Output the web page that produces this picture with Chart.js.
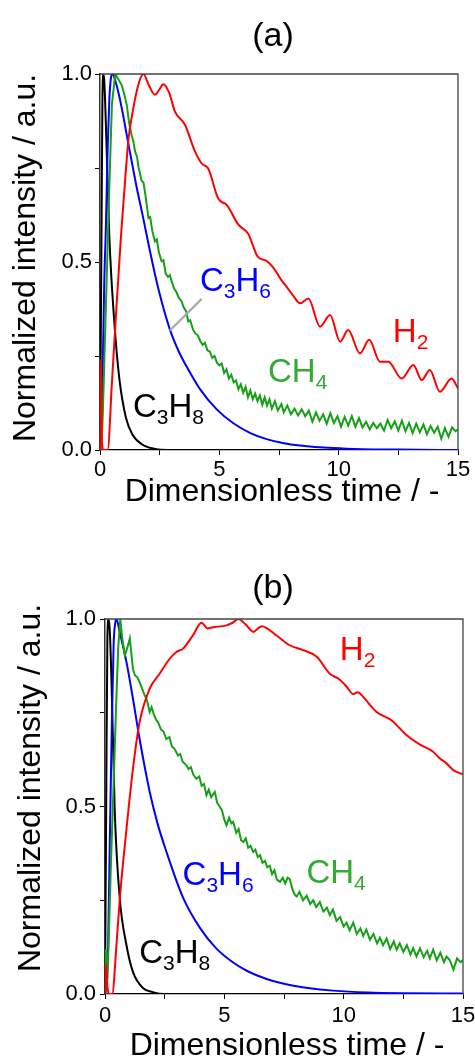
<!DOCTYPE html>
<html><head><meta charset="utf-8">
<script src="https://cdn.jsdelivr.net/npm/chart.js@4/dist/chart.umd.min.js"></script>
<style>
html,body{margin:0;padding:0;background:#fff;}
canvas{display:block;}
</style></head><body>
<canvas id="ca" width="475" height="530"></canvas>
<canvas id="cb" width="475" height="529"></canvas>
<script>
// ---------- tick labels ----------
const xTickLabels = ['0', '5', '10', '15'];
const yTickLabels = ['0.0', '0.5', '1.0'];

// ---------- panel (a) ----------
const tH2a = [0,0.04,0.08,0.15,0.32,0.5,0.67,0.88,1.09,1.2,1.37,1.6,1.82,2.05,2.3,2.5,2.65,2.9,3.14,3.56,3.98,4.26,4.54,4.96,5.31,5.79,6.21,6.6,7.0,7.26,7.6,7.82,8.1,8.38,8.73,9.22,9.64,10.06,10.4,10.89,11.28,11.73,12.08,12.64,13.13,13.48,13.82,14.24,14.73,15];
const h2a  = [0,0.24,0.02,0,0,0.18,0.36,0.57,0.75,0.83,0.9,0.97,1.0,0.97,0.945,0.96,0.973,0.95,0.90,0.865,0.794,0.762,0.748,0.668,0.652,0.60,0.575,0.515,0.502,0.485,0.452,0.434,0.41,0.39,0.403,0.328,0.359,0.288,0.319,0.257,0.293,0.235,0.235,0.19,0.226,0.186,0.213,0.155,0.19,0.164];

const tC3H8a = [0,0.06,0.1,0.14,0.18,0.25,0.39,0.6,0.81,1.09,1.37,1.79,2.3,2.8,15];
const c3h8a  = [0,0.55,0.92,1.0,0.98,0.86,0.57,0.34,0.19,0.085,0.04,0.014,0.003,0,0];

const tC3H6a = [0,0.06,0.11,0.18,0.25,0.32,0.39,0.46,0.53,0.65,0.81,1.0,1.2,1.5,1.8,2.09,2.44,2.93,3.3,3.63,4.19,4.89,5.59,6.3,6.98,7.7,8.38,9.78,11,12.5,15];
const c3h6a  = [0,0.05,0.2,0.45,0.6,0.8,0.93,0.99,1.0,0.98,0.94,0.88,0.81,0.71,0.62,0.53,0.43,0.32,0.262,0.222,0.162,0.108,0.071,0.045,0.029,0.018,0.012,0.005,0.002,0.001,0];

const tCH4a = [0,0.03,0.07,0.12,0.2,0.3,0.39,0.5,0.64,0.78,
  0.91,1.0,1.12,1.22,1.32,1.4,1.47,1.55,1.62,1.75,
  1.82,1.9,2.03,2.1,2.2,2.3,2.38,2.47,2.58,2.66,
  2.75,2.85,2.93,3.0,3.1,3.2,3.3,3.42,3.5,3.6,
  3.7,3.78,3.9,4.0,4.1,4.2,4.3,4.4,4.5,4.6,
  4.7,4.8,4.9,5.0,5.1,5.2,5.3,5.4,5.5,5.6,
  5.7,5.8,5.9,6.0,6.1,6.2,6.3,6.4,6.5,6.6,
  6.7,6.8,6.9,7.0,7.1,7.2,7.33,7.45,7.6,7.7,
  7.85,8.0,8.15,8.3,8.45,8.6,8.75,8.9,9.05,9.2,
  9.35,9.5,9.65,9.8,9.95,10.1,10.25,10.4,10.55,10.7,
  10.85,11.0,11.15,11.3,11.45,11.6,11.75,11.9,12.05,12.2,
  12.35,12.5,12.65,12.8,12.95,13.1,13.25,13.4,13.55,13.7,
  13.85,14.0,14.15,14.3,14.45,14.6,14.75,14.9,15];
const ch4a = [0,0.17,0.02,0.1,0.28,0.5,0.7,0.92,1.0,0.985,
  0.97,0.95,0.918,0.87,0.839,0.82,0.794,0.78,0.75,0.715,
  0.712,0.68,0.617,0.62,0.58,0.555,0.56,0.525,0.502,0.505,
  0.47,0.46,0.465,0.449,0.43,0.42,0.405,0.395,0.38,0.37,
  0.342,0.345,0.32,0.31,0.305,0.29,0.28,0.285,0.265,0.262,
  0.245,0.25,0.232,0.225,0.23,0.205,0.215,0.19,0.2,0.18,
  0.185,0.162,0.175,0.152,0.168,0.14,0.158,0.135,0.15,0.13,
  0.145,0.12,0.14,0.118,0.135,0.11,0.13,0.105,0.122,0.1,
  0.118,0.095,0.11,0.092,0.108,0.09,0.105,0.075,0.1,0.078,
  0.095,0.07,0.098,0.072,0.09,0.062,0.088,0.065,0.09,0.062,
  0.085,0.06,0.075,0.055,0.072,0.058,0.07,0.052,0.08,0.058,
  0.076,0.052,0.078,0.05,0.072,0.045,0.07,0.047,0.068,0.042,
  0.064,0.046,0.062,0.03,0.058,0.035,0.06,0.05,0.055];

// ---------- panel (b) ----------
const tH2b = [0,0.05,0.1,0.2,0.3,0.48,0.62,0.9,1.17,1.45,1.87,2.29,2.71,2.99,3.27,3.69,4.04,4.3,4.53,5.09,5.35,5.58,5.9,6.21,6.56,7.19,7.74,8.3,8.86,9.42,9.8,10.12,10.4,10.6,10.75,11.38,12.0,12.64,13.2,13.75,14.03,14.31,14.59,15];
const h2b  = [0,0.08,0.02,0,0,0.13,0.254,0.44,0.6,0.725,0.814,0.854,0.894,0.912,0.921,0.957,0.99,0.975,0.978,0.983,0.99,1.0,0.985,0.966,0.981,0.956,0.93,0.917,0.9,0.854,0.84,0.82,0.8,0.805,0.797,0.752,0.73,0.69,0.665,0.646,0.628,0.615,0.597,0.586];

const tC3H8b = [0,0.05,0.1,0.15,0.2,0.27,0.41,0.62,0.9,1.17,1.59,2.0,2.5,15];
const c3h8b  = [0,0.5,0.95,1.0,0.97,0.84,0.485,0.254,0.13,0.059,0.016,0.005,0,0];

const tC3H6b = [0,0.08,0.13,0.2,0.27,0.36,0.43,0.48,0.6,0.9,1.17,1.45,1.87,2.2,2.57,3.27,3.97,4.67,5.37,6.0,6.77,7.74,8.5,9.56,11,12.5,15];
const c3h6b  = [0,0.03,0.13,0.4,0.66,0.93,0.99,1.0,0.97,0.885,0.788,0.68,0.54,0.455,0.38,0.257,0.177,0.121,0.084,0.06,0.04,0.024,0.016,0.009,0.004,0.002,0.001];

const tCH4b = [0,0.03,0.08,0.15,0.25,0.35,0.45,0.55,0.64,0.72,
  0.83,0.92,1.04,1.1,1.17,1.25,1.35,1.45,1.55,1.66,
  1.75,1.87,1.95,2.05,2.15,2.22,2.35,2.45,2.57,2.7,
  2.8,2.9,3.06,3.15,3.25,3.41,3.5,3.6,3.7,3.83,
  3.95,4.05,4.15,4.25,4.35,4.45,4.6,4.7,4.8,4.9,
  5.0,5.09,5.2,5.3,5.37,5.5,5.6,5.7,5.8,5.9,
  6.0,6.1,6.21,6.3,6.4,6.5,6.6,6.7,6.8,6.9,
  7.0,7.1,7.2,7.33,7.45,7.55,7.65,7.74,7.85,7.95,
  8.03,8.15,8.3,8.45,8.6,8.72,8.85,9.0,9.15,9.3,
  9.42,9.55,9.7,9.85,10.0,10.12,10.25,10.4,10.55,10.7,
  10.82,10.95,11.1,11.25,11.4,11.52,11.65,11.8,11.95,12.1,
  12.22,12.35,12.5,12.65,12.8,12.91,13.05,13.2,13.35,13.5,
  13.61,13.75,13.9,14.05,14.2,14.31,14.45,14.6,14.75,14.9,
  15];
const ch4b = [0,0.12,0.02,0.13,0.35,0.54,0.74,0.92,1.0,0.95,
  0.903,0.92,0.948,0.91,0.867,0.85,0.845,0.832,0.815,0.797,
  0.785,0.752,0.765,0.745,0.73,0.725,0.705,0.7,0.68,0.685,
  0.66,0.655,0.636,0.64,0.62,0.61,0.6,0.605,0.585,0.574,
  0.58,0.555,0.56,0.53,0.545,0.525,0.539,0.51,0.5,0.49,
  0.465,0.45,0.47,0.455,0.459,0.43,0.44,0.41,0.405,0.415,
  0.39,0.395,0.379,0.385,0.365,0.37,0.35,0.355,0.338,0.342,
  0.32,0.33,0.305,0.299,0.31,0.295,0.31,0.307,0.28,0.265,
  0.26,0.272,0.25,0.262,0.24,0.25,0.232,0.245,0.22,0.23,
  0.21,0.225,0.195,0.205,0.18,0.19,0.17,0.19,0.16,0.175,
  0.155,0.172,0.145,0.16,0.135,0.15,0.13,0.148,0.12,0.14,
  0.118,0.135,0.112,0.13,0.105,0.122,0.1,0.122,0.098,0.115,
  0.095,0.118,0.09,0.11,0.085,0.1,0.09,0.065,0.095,0.085,
  0.09];

// ---------- styling ----------
const FONT = '"Liberation Sans", Arial, Helvetica, sans-serif';
const COL = { h2: '#ff0000', c3h8: '#000000', c3h6: '#0000ff', ch4: '#16a016', ch4Label: '#33aa33' };

function pts(t, v) { return t.map((x, i) => ({ x: x, y: v[i] })); }

function series(t, v, color, smooth) {
  return {
    data: pts(t, v), borderColor: color, borderWidth: 2, pointRadius: 0,
    fill: false, tension: smooth ? 0.4 : 0,
    cubicInterpolationMode: smooth ? 'monotone' : 'default'
  };
}

function chemText(ctx, parts, x, y, size, subSize, subDy) {
  let cx = x;
  for (const p of parts) {
    const sub = p[1];
    ctx.font = (sub ? subSize : size) + 'px ' + FONT;
    ctx.fillText(p[0], cx, y + (sub ? subDy : 0));
    cx += ctx.measureText(p[0]).width;
  }
}

function makeDeco(cfg) {
  return {
    id: 'deco',
    afterDraw(chart) {
      const ctx = chart.ctx, a = chart.chartArea, sx = chart.scales.x, sy = chart.scales.y;
      ctx.save();
      ctx.strokeStyle = '#444'; ctx.lineWidth = 1.3;
      ctx.beginPath();
      ctx.moveTo(a.left, a.top); ctx.lineTo(a.right, a.top); ctx.lineTo(a.right, a.bottom);
      ctx.stroke();
      if (cfg.pointer) {
        const p = cfg.pointer;
        ctx.strokeStyle = '#aaaaaa'; ctx.lineWidth = 2.2;
        ctx.beginPath();
        ctx.moveTo(sx.getPixelForValue(p[0]), sy.getPixelForValue(p[1]));
        ctx.lineTo(sx.getPixelForValue(p[2]), sy.getPixelForValue(p[3]));
        ctx.stroke();
      }
      ctx.fillStyle = '#000';
      ctx.textBaseline = 'alphabetic';
      ctx.textAlign = 'center';
      ctx.font = '34px ' + FONT;
      ctx.fillText(cfg.title, cfg.titleX, cfg.titleY);
      ctx.font = '32px ' + FONT;
      ctx.fillText('Dimensionless time / -', cfg.xTitleX, cfg.xTitleY);
      ctx.save();
      ctx.translate(cfg.yTitleX, cfg.yTitleY);
      ctx.rotate(-Math.PI / 2);
      ctx.font = '32px ' + FONT;
      ctx.fillText('Normalized intensity / a.u.', 0, 0);
      ctx.restore();
      ctx.textAlign = 'left';
      for (const L of cfg.labels) {
        ctx.fillStyle = L.color;
        chemText(ctx, L.parts, sx.getPixelForValue(L.t), sy.getPixelForValue(L.v), 33, 21, 7);
      }
      ctx.restore();
    }
  };
}

function makeChart(id, datasets, cfg) {
  return new Chart(document.getElementById(id), {
    type: 'line',
    data: { datasets: datasets },
    options: {
      responsive: false, animation: false, devicePixelRatio: 1,
      layout: { padding: { top: cfg.top, right: cfg.right, left: 0, bottom: 0 } },
      plugins: { legend: { display: false }, tooltip: { enabled: false }, title: { display: false } },
      scales: {
        x: {
          type: 'linear', min: 0, max: 15,
          ticks: {
            stepSize: 2.5, autoSkip: false, maxRotation: 0, minRotation: 0, padding: cfg.xPad,
            color: '#000', font: { family: FONT, size: 22 },
            callback: v => (Math.abs(v % 5) < 1e-9 ? xTickLabels[Math.round(v / 5)] : '')
          },
          grid: { drawOnChartArea: false, drawTicks: true, tickLength: 5, color: '#000', tickColor: '#000' },
          border: { display: true, color: '#000', width: 1.3 },
          afterFit: s => { s.height = cfg.xH; s.paddingLeft = 0; s.paddingRight = 0; }
        },
        y: {
          type: 'linear', min: 0, max: 1,
          ticks: {
            stepSize: 0.25, autoSkip: false, padding: cfg.yPad,
            color: '#000', font: { family: FONT, size: 22 },
            callback: v => (Math.abs(v * 2 - Math.round(v * 2)) < 1e-9 ? yTickLabels[Math.round(v * 2)] : '')
          },
          grid: { drawOnChartArea: false, drawTicks: true, tickLength: 5, color: '#000', tickColor: '#000' },
          border: { display: true, color: '#333', width: 1.5 },
          afterFit: s => { s.width = cfg.yW; s.paddingTop = 0; s.paddingBottom = 0; }
        }
      }
    },
    plugins: [makeDeco(cfg)]
  });
}

makeChart('ca', [
  series(tH2a, h2a, COL.h2, true),
  series(tCH4a, ch4a, COL.ch4, false),
  series(tC3H6a, c3h6a, COL.c3h6, true),
  series(tC3H8a, c3h8a, COL.c3h8, true)
], {
  top: 74, right: 17, yW: 100, xH: 80, xPad: 2, yPad: 3,
  title: '(a)', titleX: 273, titleY: 46,
  xTitleX: 282, xTitleY: 501, yTitleX: 35, yTitleY: 258,
  pointer: [2.93, 0.318, 4.26, 0.402],
  labels: [
    { parts: [['C', 0], ['3', 1], ['H', 0], ['6', 1]], t: 4.19, v: 0.424, color: COL.c3h6 },
    { parts: [['H', 0], ['2', 1]], t: 12.27, v: 0.288, color: COL.h2 },
    { parts: [['CH', 0], ['4', 1]], t: 7.04, v: 0.182, color: COL.ch4Label },
    { parts: [['C', 0], ['3', 1], ['H', 0], ['8', 1]], t: 1.38, v: 0.089, color: COL.c3h8 }
  ]
});

makeChart('cb', [
  series(tH2b, h2b, COL.h2, true),
  series(tCH4b, ch4b, COL.ch4, false),
  series(tC3H6b, c3h6b, COL.c3h6, true),
  series(tC3H8b, c3h8b, COL.c3h8, true)
], {
  top: 89, right: 12, yW: 105, xH: 65, xPad: 4, yPad: 4,
  title: '(b)', titleX: 273, titleY: 68,
  xTitleX: 287, xTitleY: 525, yTitleX: 40, yTitleY: 258,
  pointer: null,
  labels: [
    { parts: [['H', 0], ['2', 1]], t: 9.84, v: 0.891, color: COL.h2 },
    { parts: [['C', 0], ['3', 1], ['H', 0], ['6', 1]], t: 3.25, v: 0.291, color: COL.c3h6 },
    { parts: [['CH', 0], ['4', 1]], t: 8.44, v: 0.297, color: COL.ch4Label },
    { parts: [['C', 0], ['3', 1], ['H', 0], ['8', 1]], t: 1.43, v: 0.082, color: COL.c3h8 }
  ]
});
</script>
</body></html>
